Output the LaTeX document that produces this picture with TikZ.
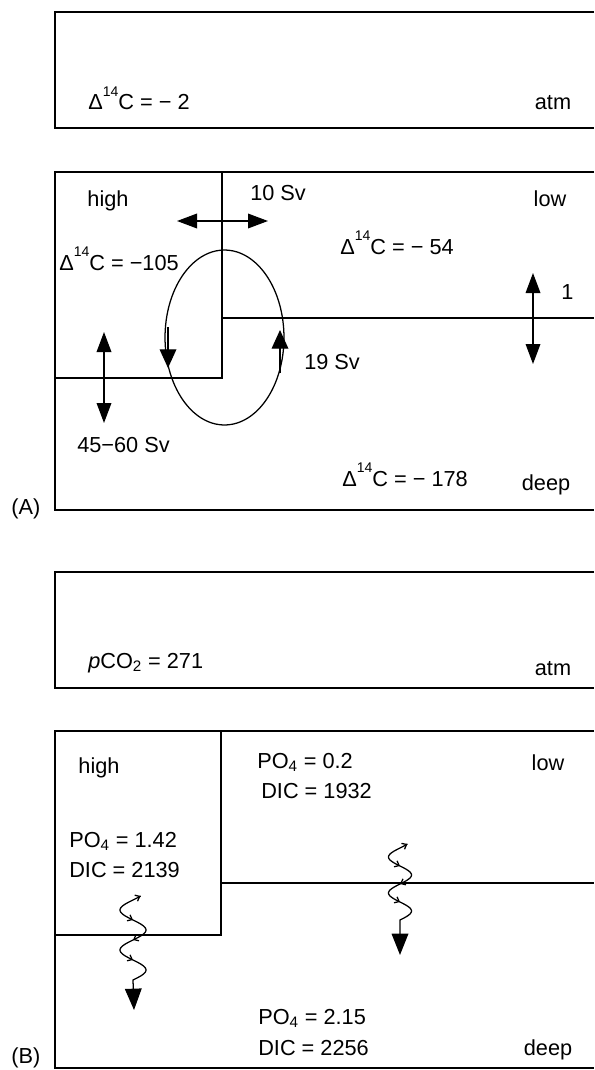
\documentclass[tikz,border=0pt]{standalone}
\usepackage{fontspec}
\setmainfont{Liberation Sans}
\usetikzlibrary{arrows.meta}
\newcommand{\supnum}[1]{\raisebox{0.62em}{\fontsize{10.5}{11}\selectfont #1}}
\begin{document}
\begin{tikzpicture}[x=0.75pt,y=-0.75pt,
  boxline/.style={line width=2pt,line join=miter},
  inline/.style={line width=1.6pt,line join=miter},
  thinline/.style={line width=0.95pt},
  dbl/.style={thinline,{Triangle[length=15pt,width=11pt]}-{Triangle[length=15pt,width=11pt]}},
  sgl/.style={thinline,-{Triangle[length=14pt,width=12.5pt]}},
  wavy/.style={thinline,-{Triangle[length=16pt,width=12.5pt]}},
  barb/.style={thinline,-{Straight Barb[length=3pt,width=5pt]}},
  lbl/.style={anchor=base west,inner sep=0pt,font=\fontsize{16.3}{19}\selectfont},
  lblc/.style={anchor=base,inner sep=0pt,font=\fontsize{16.3}{19}\selectfont}]
\useasboundingbox (0,0) rectangle (594,1070);

% ---------------- Panel A ----------------
\draw[boxline] (594,12) -- (55,12) -- (55,128) -- (594,128);
\draw[boxline] (594,172) -- (55,172) -- (55,510) -- (594,510);
\draw[inline] (222,172) -- (222,378) -- (55,378);
\draw[inline] (222,318) -- (594,318);

\node[lbl] (a1) at (88,110) {Δ\supnum{14}C = − 2};
\node[lblc] (a2) at (553,110) {atm};
\node[lblc] (a3) at (108,206) {high};
\node[lbl] (a4) at (250,200) {10 Sv};
\node[lblc] (a5) at (550,206) {low};
\node[lbl] (a6) at (59,270) {Δ\supnum{14}C = −105};
\node[lbl] (a7) at (340,254) {Δ\supnum{14}C = − 54};
\node[lbl] (a8) at (561,299) {1};
\node[lbl] (a9) at (304,369) {19 Sv};
\node[lbl] (a10) at (77,452) {45−60 Sv};
\node[lbl] (a11) at (342,486) {Δ\supnum{14}C = − 178};
\node[lblc] (a12) at (546,490) {deep};
\node[lbl] (a13) at (11,514) {(A)};

% exchange arrows
\coordinate (h1) at (177,221);
\coordinate (h2) at (268,221);
\draw[dbl] (h1) -- (h2);
\coordinate (v1) at (533,273);
\coordinate (v2) at (533,364);
\draw[dbl] (v1) -- (v2);
\coordinate (u1) at (104,332);
\coordinate (u2) at (104,423);
\draw[dbl] (u1) -- (u2);

% overturning loop
\coordinate (ec) at (224.5,337.5);
\draw[thinline] (ec) ellipse [x radius=44.6pt, y radius=65.6pt];
\coordinate (l1) at (168,327);
\coordinate (l2) at (168,368);
\draw[sgl] (l1) -- (l2);
\coordinate (r1) at (280,373);
\coordinate (r2) at (280,330);
\draw[sgl] (r1) -- (r2);

% ---------------- Panel B ----------------
\draw[boxline] (594,572) -- (55,572) -- (55,688) -- (594,688);
\draw[boxline] (594,731) -- (55,731) -- (55,1068) -- (594,1068);
\draw[inline] (221,731) -- (221,935) -- (55,935);
\draw[inline] (221,883) -- (594,883);

\node[lbl] (b1) at (88,668) {\textit{p}CO\textsubscript{2} = 271};
\node[lblc] (b2) at (553,675) {atm};
\node[lblc] (b3) at (99,773) {high};
\node[lbl] (b4) at (257,768) {PO\textsubscript{4} = 0.2};
\node[lbl] (b5) at (261,798) {DIC = 1932};
\node[lblc] (b6) at (548,770) {low};
\node[lbl] (b7) at (69,847) {PO\textsubscript{4} = 1.42};
\node[lbl] (b8) at (69,877) {DIC = 2139};
\node[lbl] (b9) at (258,1024) {PO\textsubscript{4} = 2.15};
\node[lbl] (b10) at (258,1055) {DIC = 2256};
\node[lblc] (b11) at (548,1055) {deep};
\node[lbl] (b12) at (11,1063) {(B)};

% sinking particle fluxes
\coordinate (w1tip) at (134,1010);
\draw[wavy] plot[domain=-4:80,samples=64] ({133-13*sin(\x*9)},{900+\x}) -- (w1tip);
\draw[barb] (138.5,897) -- (140.6,896);
\draw[barb] (131,919) -- (133,920);
\draw[barb] (135,939) -- (133,940);
\draw[barb] (131,959) -- (133,960);
\coordinate (w2tip) at (400,955);
\draw[wavy] plot[domain=-4:72,samples=64] ({400-11.5*sin(\x*10)},{848+\x}) -- (w2tip);
\draw[barb] (405.5,845) -- (407.4,844);
\draw[barb] (398,865) -- (400,866);
\draw[barb] (402,883) -- (400,884);
\draw[barb] (398,901) -- (400,902);
\end{tikzpicture}
\end{document}
